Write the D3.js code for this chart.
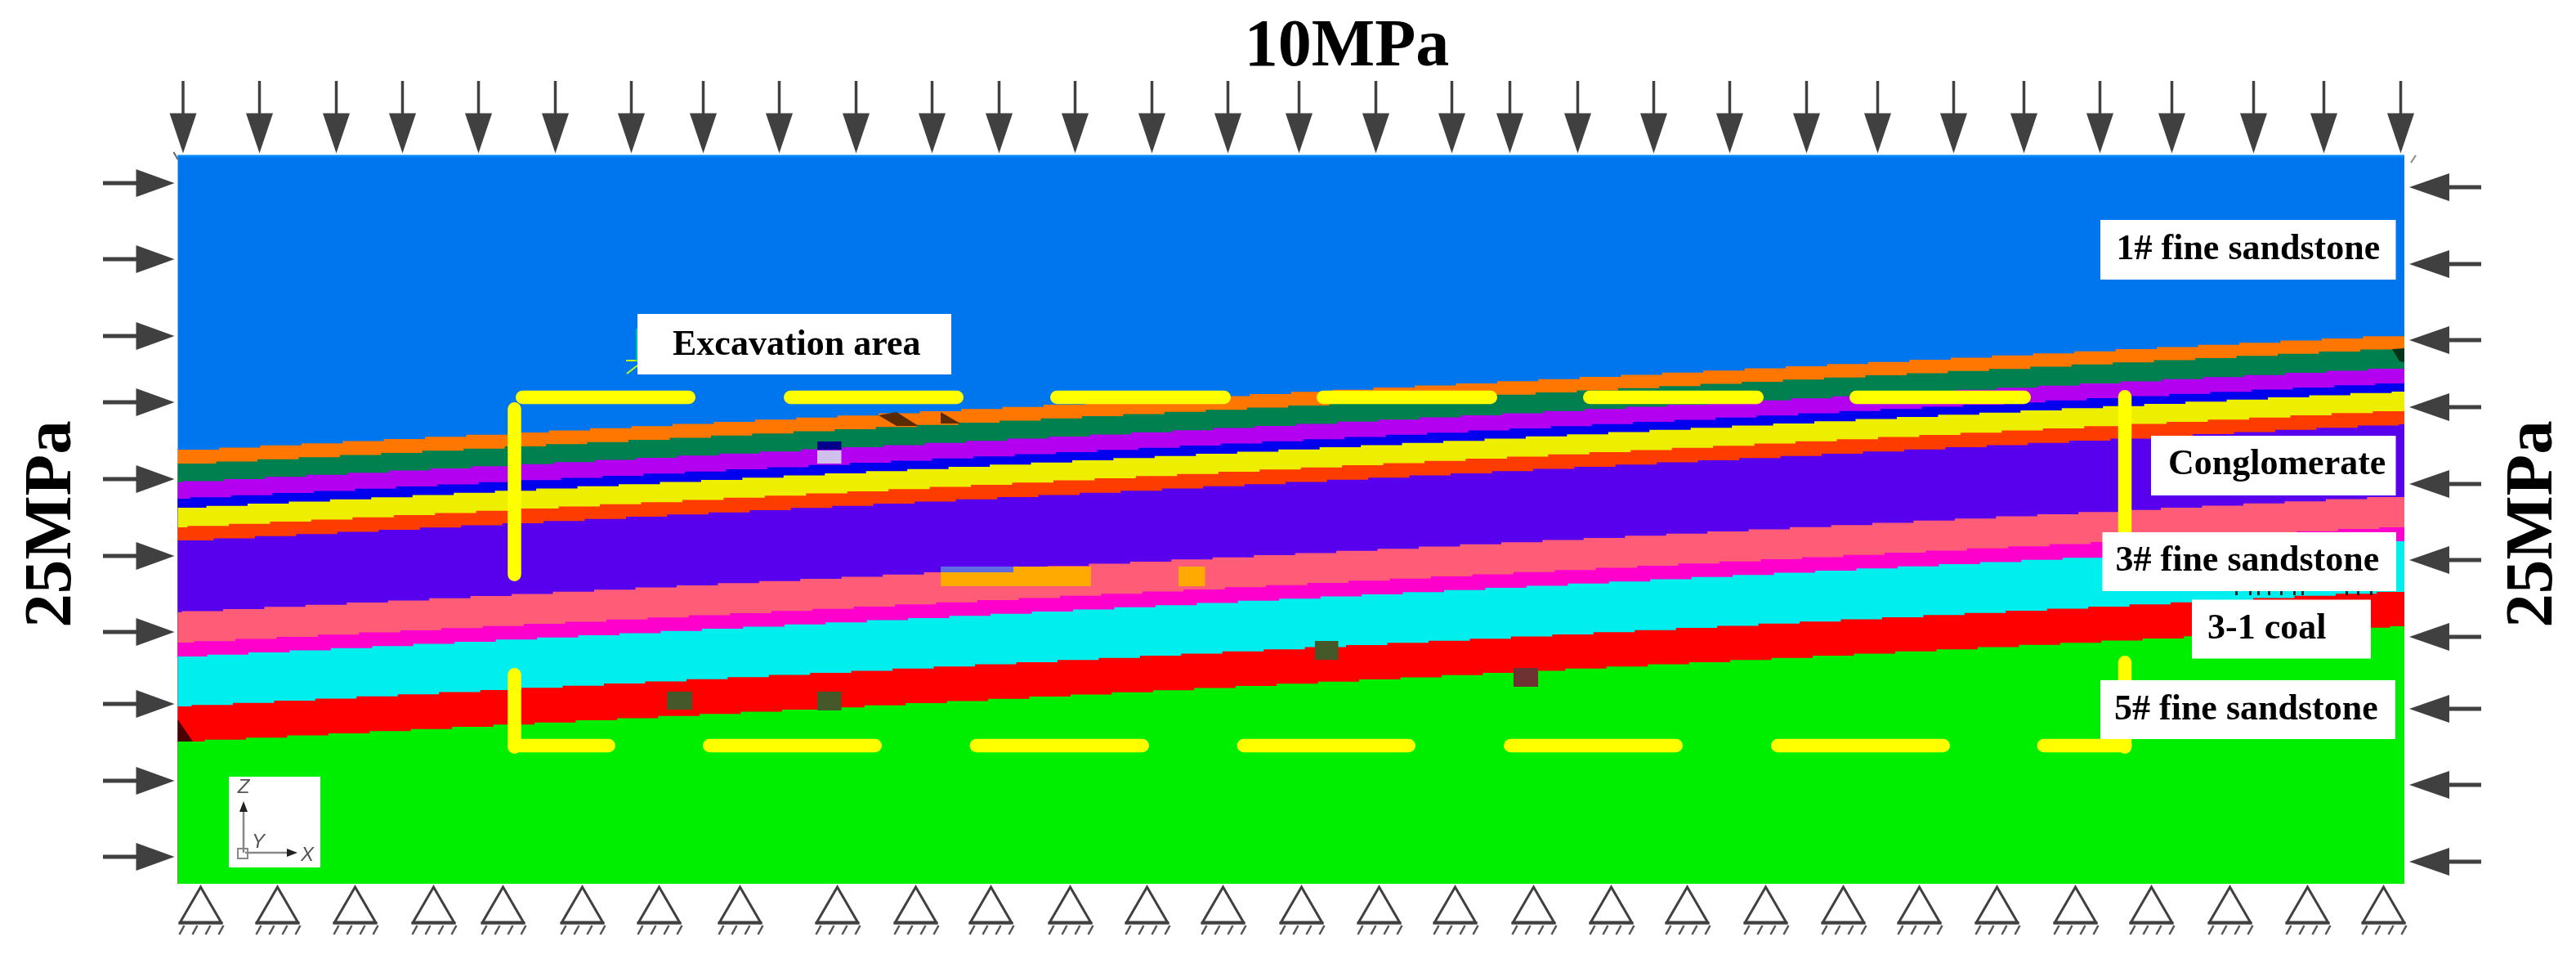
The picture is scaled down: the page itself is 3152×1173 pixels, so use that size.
<!DOCTYPE html>
<html>
<head>
<meta charset="utf-8">
<script src="https://cdn.jsdelivr.net/npm/d3@7"></script>
<style>
  html, body { margin: 0; padding: 0; background: #fff; overflow: hidden; }
  svg { display: block; filter: blur(0.7px); }
  text { font-family: "Liberation Serif", serif; font-weight: bold; fill: #000; }
</style>
</head>
<body>
<div id="chart"></div>
<script>
// All values are in model units (x along the model, z up from the base)
const modelWidth = 272.45;
const modelHeight = 89.1;

// ── Strata: top of each layer at the left and right model edge ───────────────
const layerColors = ["#0076ee", "#ff7700", "#007f4f", "#b400f0", "#0000ee", "#eeee00", "#ff3c00",
                     "#5800ee", "#ff5c78", "#ff00cc", "#00eeee", "#ff0000", "#00ee00"];
const layerTopLeft = [89.1, 53.1, 51.4, 49.1, 47.1, 46.0, 43.6, 42.0, 33.2, 29.5, 27.8, 21.7, 17.4];
const layerTopRight = [89.1, 67.1, 65.5, 63.0, 61.2, 60.2, 57.8, 56.2, 47.3, 43.6, 41.9, 35.7, 31.5];
const layerMeshOffset = [0, 0, 4.7, 0.6, 1.5, 3.5, 1.2, 4.4, 0.5, 2.0, 3.6, 1.7, 3.3];
const meshCell = 5.045;

// ── Boundary conditions ──────────────────────────────────────────────────────
const topLoadX = [0.65, 10.0, 19.4, 27.5, 36.8, 46.2, 55.5, 64.3, 73.6, 83.0, 92.3, 100.5, 109.8, 119.2, 128.5,
                  137.2, 146.6, 155.9, 163.0, 171.3, 180.6, 189.9, 199.3, 208.0, 217.3, 225.9, 235.2, 244.0,
                  254.0, 262.6, 272.0];
const leftLoadZ = [85.7, 76.4, 67.0, 58.9, 49.5, 40.1, 30.8, 22.0, 12.6, 3.3];
const rightLoadZ = [85.2, 75.8, 66.5, 58.3, 48.9, 39.6, 30.2, 21.4, 12.1, 2.7];
const supportX = [2.8, 12.2, 21.7, 31.3, 39.8, 49.5, 58.9, 68.8, 80.7, 90.3, 99.5, 109.2, 118.6, 127.9, 137.5,
                  147.0, 156.3, 165.9, 175.4, 184.7, 194.3, 203.8, 213.1, 222.6, 232.2, 241.5, 251.1, 260.6, 269.9];

// ── Excavation area outline ──────────────────────────────────────────────────
const outlineTopZ = 59.5;
const outlineTop = [[41.35, 63.35], [74.15, 96.15], [106.75, 128.85], [139.35, 161.45], [171.95, 194.05], [204.55, 226.75]];
const outlineBottomZ = 16.9;
const outlineBottom = [[40.35, 53.55], [64.25, 86.15], [96.9, 118.85], [129.6, 151.45], [162.25, 184.15], [194.95, 216.85], [227.5, 239.1]];
const outlineLeftX = 41.2;
const outlineLeft = [[58.9, 37.0], [26.4, 15.9]];
const outlineRightX = 238.25;
const outlineRight = [[60.4, 38.5], [27.9, 15.9]];

// ── Zones that differ from their layer: [x0, x1, zTop, zBottom, colour] ──────
const patches = [
  [78.25, 81.2, 54.1, 53.1, "#00008b"],
  [78.25, 81.2, 53.0, 51.4, "#d0bfea"],
  [93.35, 111.75, 38.8, 36.4, "#ffaa00"],
  [93.35, 102.25, 38.8, 38.1, "#5f6be0"],
  [122.45, 125.7, 38.8, 36.4, "#ffaa00"],
  [78.25, 81.2, 23.5, 21.2, "#45582a"],
  [59.85, 62.95, 23.5, 21.3, "#45582a"],
  [139.15, 142.0, 29.7, 27.4, "#45582a"],
  [163.45, 166.45, 26.4, 24.1, "#6e3232"]
];
const wedges = [
  { color: "#5c2a00", pts: [[85.75, 57.3], [87.95, 57.7], [90.65, 56.0], [87.95, 56.0]] },
  { color: "#5c2a00", pts: [[93.35, 57.7], [95.75, 56.3], [93.35, 56.3]] },
  { color: "#4a0000", pts: [[0, 20.1], [1.85, 17.4], [0, 17.4]] },
  { color: "#003318", pts: [[270.95, 65.4], [272.45, 65.5], [272.45, 63.8], [271.85, 63.9]] }
];

// ── Labels ───────────────────────────────────────────────────────────────────
const labelNames = ["Excavation area", "1# fine sandstone", "Conglomerate", "3# fine sandstone", "3-1 coal", "5# fine sandstone"];
const labelBoxes = [
  [56.25, 94.65, 69.7, 62.3], [235.25, 271.4, 81.2, 73.9], [241.45, 271.4, 54.8, 47.5],
  [235.5, 271.45, 43.0, 35.8], [246.45, 268.35, 34.75, 27.55], [235.25, 271.35, 24.9, 17.7]
];
const labelAnchors = [[60.55, 64.7], [237.2, 76.4], [243.55, 50.1], [237.1, 38.3], [248.35, 30.05], [236.95, 20.1]];

const W = 3152, H = 1173;
const x = d3.scaleLinear().domain([0, modelWidth]).range([217.5, 2942]);
const z = d3.scaleLinear().domain([0, modelHeight]).range([1081, 190]);

const svg = d3.select("#chart").append("svg").attr("width", W).attr("height", H);
svg.append("rect").attr("width", W).attr("height", H).attr("fill", "#fff");

// Line style: a straight layer boundary broken into steps along the mesh columns.
// The two end points are the heights of the first and last column.
function meshStairs(cellPx, offsetPx) {
  return (ctx) => {
    let pts = [];
    return {
      lineStart() { pts = []; },
      point(px, py) { pts.push([px, py]); },
      lineEnd() {
        const [[x0, y0], [x1, y1]] = pts;
        const breaks = [x0];
        let b = x0 + (offsetPx > 0 ? offsetPx : cellPx);
        while (b < x1) { breaks.push(b); b += cellPx; }
        breaks.push(x1);
        const mids = d3.pairs(breaks, (a, c) => (a + c) / 2);
        const height = d3.scaleLinear().domain([mids[0], mids[mids.length - 1]]).range([y0, y1]);
        mids.forEach((m, k) => {
          if (k === 0) ctx.moveTo(breaks[0], height(m));
          else ctx.lineTo(breaks[k], height(m));
          ctx.lineTo(breaks[k + 1], height(m));
        });
      }
    };
  };
}

// Strata, painted top to bottom, each one down to the base
const strata = svg.append("g");
layerColors.forEach((color, i) => {
  const top = d3.line()
    .x((d) => x(d[0]))
    .y((d) => z(d[1]))
    .curve(meshStairs(x(meshCell) - x(0), x(layerMeshOffset[i]) - x(0)));
  const edge = top([[0, layerTopLeft[i]], [modelWidth, layerTopRight[i]]]);
  strata.append("path")
    .attr("d", `${edge}L${x(modelWidth)},${z(0)}L${x(0)},${z(0)}Z`)
    .attr("fill", color);
});
// Lighter rim along the top surface
strata.append("line")
  .attr("x1", x(0)).attr("x2", x(modelWidth)).attr("y1", z(modelHeight) + 1).attr("y2", z(modelHeight) + 1)
  .attr("stroke", "#0088ff").attr("stroke-width", 3);

strata.selectAll("rect.patch").data(patches).join("rect")
  .attr("class", "patch")
  .attr("x", (d) => x(d[0]))
  .attr("y", (d) => z(d[2]))
  .attr("width", (d) => x(d[1]) - x(d[0]))
  .attr("height", (d) => z(d[3]) - z(d[2]))
  .attr("fill", (d) => d[4]);

strata.selectAll("polygon").data(wedges).join("polygon")
  .attr("points", (d) => d.pts.map((p) => `${x(p[0])},${z(p[1])}`).join(" "))
  .attr("fill", (d) => d.color);

// Stray marks from the source figure at the corners and beside the label
const stray = svg.append("g").attr("fill", "none");
stray.append("path").attr("d", `M${x(0) - 5},186L${x(0)},195`).attr("stroke", "#666").attr("stroke-width", 2);
stray.append("path").attr("d", `M${x(modelWidth) + 14},190L${x(modelWidth) + 8},199`).attr("stroke", "#888").attr("stroke-width", 2);
stray.append("path").attr("d", "M766,441H780M767,457L780,447").attr("stroke", "#c4ff00").attr("stroke-width", 2);
stray.append("path").attr("d", "M779,402V441").attr("stroke", "#00c0a0").attr("stroke-width", 2);

// Excavation outline
const outline = svg.append("g")
  .attr("stroke", "#ffff00").attr("stroke-width", 16.5).attr("stroke-linecap", "round").attr("fill", "none");
const capInset = 8.25;
outline.selectAll("line.top").data(outlineTop).join("line").attr("class", "top")
  .attr("x1", (d) => x(d[0]) + capInset).attr("x2", (d) => x(d[1]) - capInset)
  .attr("y1", z(outlineTopZ)).attr("y2", z(outlineTopZ));
outline.selectAll("line.bottom").data(outlineBottom).join("line").attr("class", "bottom")
  .attr("x1", (d) => x(d[0]) + capInset).attr("x2", (d) => x(d[1]) - capInset)
  .attr("y1", z(outlineBottomZ)).attr("y2", z(outlineBottomZ));
outline.selectAll("line.left").data(outlineLeft).join("line").attr("class", "left")
  .attr("x1", x(outlineLeftX)).attr("x2", x(outlineLeftX))
  .attr("y1", (d) => z(d[0]) + capInset).attr("y2", (d) => z(d[1]) - capInset);
outline.selectAll("line.right").data(outlineRight).join("line").attr("class", "right")
  .attr("x1", x(outlineRightX)).attr("x2", x(outlineRightX))
  .attr("y1", (d) => z(d[0]) + capInset).attr("y2", (d) => z(d[1]) - capInset);

// Load arrows
const arrowColor = "#404040";
const loads = svg.append("g");
const topArrows = loads.selectAll("g.top").data(topLoadX).join("g").attr("class", "top")
  .attr("transform", (d) => `translate(${x(d)},187.5)`);
topArrows.append("line").attr("y1", -88.5).attr("y2", -40).attr("stroke", arrowColor).attr("stroke-width", 3.5);
topArrows.append("path").attr("d", "M-16.5,-49H16.5L0,0Z").attr("fill", arrowColor);

const leftArrows = loads.selectAll("g.left").data(leftLoadZ).join("g").attr("class", "left")
  .attr("transform", (d) => `translate(213.5,${z(d)})`);
leftArrows.append("line").attr("x1", -87.5).attr("x2", -40).attr("stroke", arrowColor).attr("stroke-width", 5);
leftArrows.append("path").attr("d", "M-47,-17V17L0,0Z").attr("fill", arrowColor);

const rightArrows = loads.selectAll("g.right").data(rightLoadZ).join("g").attr("class", "right")
  .attr("transform", (d) => `translate(2948,${z(d)})`);
rightArrows.append("line").attr("x1", 40).attr("x2", 88).attr("stroke", arrowColor).attr("stroke-width", 5);
rightArrows.append("path").attr("d", "M49,-17V17L0,0Z").attr("fill", arrowColor);

// Fixed supports along the base
const supports = svg.append("g").selectAll("g").data(supportX).join("g")
  .attr("transform", (d) => `translate(${x(d)},1083)`);
supports.append("path").attr("d", "M0,2L-25,45H25Z")
  .attr("fill", "#fff").attr("stroke", arrowColor).attr("stroke-width", 3);
supports.append("path").attr("d", "M-27,46H27").attr("stroke", arrowColor).attr("stroke-width", 3.5);
supports.append("path")
  .attr("d", d3.range(4).map((k) => `M${-26 + k * 16},60L${-20 + k * 16},49`).join(""))
  .attr("stroke", "#555").attr("stroke-width", 2.5);

// Specks of covered text just below the 3# label
svg.append("g").selectAll("rect")
  .data([2735, 2752, 2762, 2775, 2790, 2806, 2816, 2870, 2884, 2900])
  .join("rect")
  .attr("x", (d) => d).attr("y", 723).attr("width", 3).attr("height", 5).attr("fill", "#222");

// Label boxes
const labels = svg.append("g");
labels.selectAll("rect").data(labelBoxes).join("rect")
  .attr("x", (d) => x(d[0]))
  .attr("y", (d) => z(d[2]))
  .attr("width", (d) => x(d[1]) - x(d[0]))
  .attr("height", (d) => z(d[3]) - z(d[2]))
  .attr("fill", "#fff");
labels.selectAll("text").data(labelNames).join("text")
  .attr("x", (d, i) => x(labelAnchors[i][0]))
  .attr("y", (d, i) => z(labelAnchors[i][1]))
  .attr("font-size", "44px")
  .text((d) => d);

// Stress titles
svg.append("text").attr("x", 1648).attr("y", 80).attr("text-anchor", "middle")
  .attr("font-size", "82px").text("10MPa");
[86, 3122].forEach((bx) => {
  svg.append("text").attr("text-anchor", "middle").attr("font-size", "83px")
    .attr("transform", `translate(${bx},641) rotate(-90)`).text("25MPa");
});

// Coordinate triad
const triad = svg.append("g");
triad.append("rect").attr("x", 280).attr("y", 950).attr("width", 112).attr("height", 111).attr("fill", "#fff");
triad.append("path").attr("d", "M298,1043V990M300,1043H352")
  .attr("stroke", "#888").attr("stroke-width", 2.5).attr("fill", "none");
triad.append("path").attr("d", "M298,980L293,993H303Z").attr("fill", "#222");
triad.append("path").attr("d", "M364,1043L351,1038V1048Z").attr("fill", "#222");
triad.append("rect").attr("x", 291).attr("y", 1038).attr("width", 12).attr("height", 12)
  .attr("fill", "none").attr("stroke", "#888").attr("stroke-width", 2);
[["Z", 298, 970], ["Y", 316, 1037], ["X", 376, 1053]].forEach(([t, tx, ty]) => {
  triad.append("text").attr("x", tx).attr("y", ty).attr("text-anchor", "middle")
    .attr("font-size", "24px").attr("font-style", "italic")
    .style("font-family", '"Liberation Sans", sans-serif').style("font-weight", "normal").style("fill", "#555")
    .text(t);
});
</script>
</body>
</html>
